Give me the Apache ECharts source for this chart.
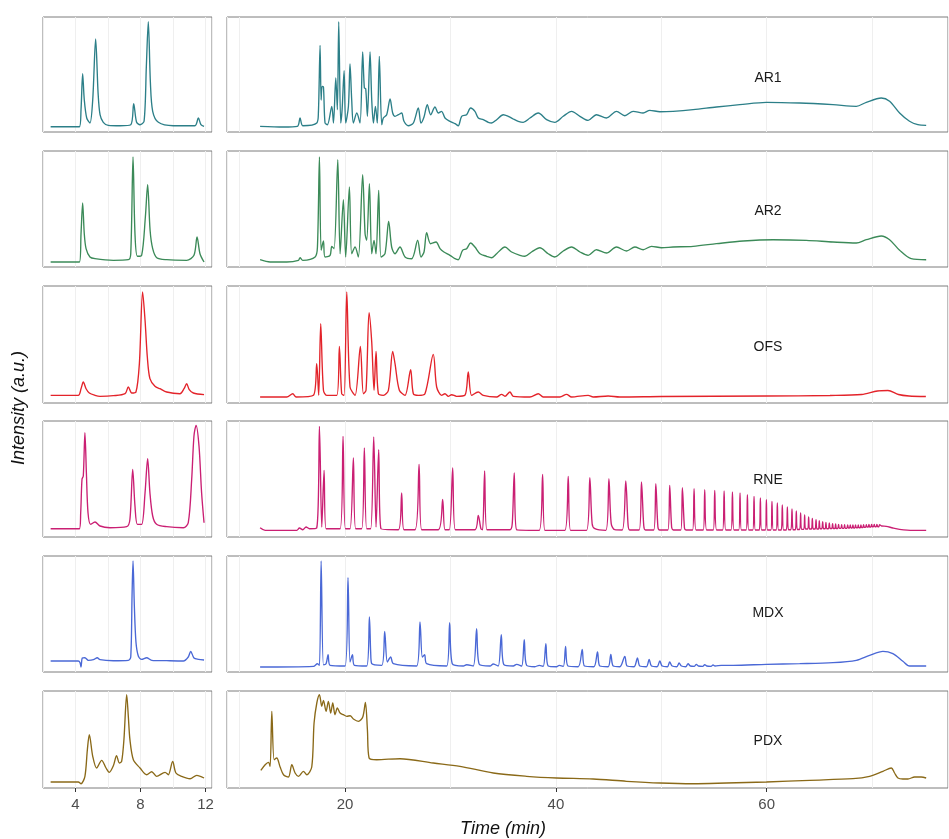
<!DOCTYPE html>
<html>
<head>
<meta charset="utf-8">
<title>Chromatograms</title>
<script src="https://cdn.jsdelivr.net/npm/echarts@6.0.0/dist/echarts.min.js"></script>
<style>
html, body { margin: 0; padding: 0; background: #fff; }
#chart { width: 949px; height: 839px; }
</style>
</head>
<body>
<div id="chart"></div>
<script>
// one row per sample
var traceNames = ['AR1', 'AR2', 'OFS', 'RNE', 'MDX', 'PDX'];
var leftTicks = [4, 8, 12];
var rightTicks = [20, 40, 60];

// [time (min), intensity (a.u.)]
var ar1Left = [[2.47,5.3],[3.46,5.3],[4.24,5.3],[4.34,22.3],[4.44,58.3],[4.54,32.3],[4.69,14],[4.89,9],[5.06,32.3],[5.24,93],[5.39,39],[5.51,17.3],[5.71,9.7],[6.02,6.7],[6.74,6.3],[7.4,7.3],[7.58,28.3],[7.76,9.7],[7.97,7.3],[8.22,10.7],[8.36,65.7],[8.48,110.3],[8.61,49],[8.75,20.7],[9.1,9.7],[10.02,6.3],[11.35,6.3],[11.56,14],[11.72,7.3],[11.91,5.7]];
var ar1Right = [[11.94,5.7],[14.15,5],[15.48,5.7],[15.73,14],[15.99,6.3],[17.32,9],[17.47,19],[17.63,86.7],[17.73,32],[17.82,45.7],[17.95,45],[18.1,9],[18.33,7.3],[18.74,25.7],[18.9,9],[19.12,54],[19.27,22.3],[19.4,110.3],[19.59,9],[19.72,22.3],[19.91,61.3],[20.06,9],[20.32,25.7],[20.47,68],[20.63,32.3],[20.79,9],[21.11,19],[21.42,9],[21.67,80],[21.83,44],[21.96,43.3],[22.12,15.7],[22.37,80],[22.53,32.3],[22.69,9],[22.88,25.7],[23.06,9],[23.25,75.7],[23.48,7.3],[23.63,14],[23.95,17.3],[24.27,33],[24.52,19],[24.74,15.7],[25.06,17.3],[25.37,19],[25.59,10.7],[26.0,6.3],[26.48,9],[26.95,24],[27.2,9],[27.49,15],[27.8,27.3],[28.12,17.3],[28.53,25],[28.85,19],[29.16,20.7],[29.48,14],[29.95,10.7],[30.43,8.3],[30.74,6.3],[31.06,15.7],[31.53,17.3],[31.91,24],[32.32,20.7],[32.64,14],[33.11,12.3],[33.59,9.7],[33.9,9],[34.38,12.3],[35.01,17.3],[35.48,15.7],[35.96,13],[36.43,10.7],[36.9,9.7],[37.54,14],[38.33,19],[39.12,12.3],[39.9,9.7],[40.7,15.7],[41.49,20.7],[42.28,15.7],[43.06,11.7],[43.85,17.3],[44.8,14],[45.75,20.7],[46.54,16.3],[47.33,20.7],[48.28,19],[48.91,21.7],[49.86,20.3],[51.12,20.7],[53.02,22.3],[55.23,25],[57.44,27.3],[59.97,29.7],[63.13,29],[66.29,27.3],[68.5,25.7],[69.45,29.7],[70.87,34],[71.66,30.7],[72.61,19],[73.55,10.7],[74.34,7.3],[75.13,6.7]];
var ar2Left = [[2.47,5],[4.24,5],[4.34,33.3],[4.44,64],[4.54,33.3],[4.65,18.3],[4.89,10],[5.2,8.3],[6.33,6.7],[7.25,7.3],[7.4,13.3],[7.54,110],[7.66,33.3],[7.81,10.7],[8.07,11.7],[8.3,50],[8.44,82.3],[8.59,36.7],[8.75,18.3],[9.0,9.3],[9.61,7.3],[10.84,6.7],[11.29,11.7],[11.48,30],[11.66,13.3],[11.91,5]];
var ar2Right = [[11.94,7.3],[12.89,5],[14.47,5],[15.58,6.7],[15.73,9.3],[15.99,6.7],[17.16,10],[17.38,20],[17.57,110],[17.73,16.7],[17.95,26],[18.1,10],[18.58,11.7],[18.74,20.7],[18.96,18.3],[19.31,107.3],[19.53,13.3],[19.84,67.3],[20.06,10],[20.41,80],[20.63,13.3],[20.95,20],[21.26,10],[21.67,92.3],[21.9,33.3],[22.05,26.7],[22.31,83.3],[22.53,13.3],[22.75,26.7],[22.94,13.3],[23.19,76.7],[23.41,10],[23.79,13.3],[24.14,45.7],[24.42,20],[24.74,13.3],[25.21,20],[25.69,10],[26.32,8.3],[26.89,26.7],[27.2,10],[27.49,15],[27.74,34.3],[28.12,23.3],[28.63,25],[29.01,18.3],[29.38,15],[29.95,11.7],[30.43,8.3],[30.74,7.3],[31.15,16.7],[31.53,18.3],[31.91,24],[32.32,20],[32.8,13.3],[33.43,10.7],[33.9,9.3],[34.38,13.3],[35.17,20],[35.8,15],[36.59,11.7],[37.06,10.7],[37.69,15],[38.48,19.3],[39.27,13.3],[39.9,10],[40.7,16],[41.49,20],[42.28,15],[43.06,11.7],[43.85,17.3],[44.8,14],[45.75,20],[46.7,16],[47.49,20],[48.28,17.3],[49.07,20.7],[50.02,19.3],[51.12,20],[53.02,20.7],[55.23,23.3],[57.76,26],[60.6,27.3],[63.76,26.7],[66.29,25],[68.5,24],[69.45,27.3],[70.87,31],[71.66,27.3],[72.61,16.7],[73.71,8.3],[75.13,7.3]];
var ofsLeft = [[2.47,7.7],[4.17,7.7],[4.34,14.3],[4.48,21],[4.65,14.3],[4.85,10],[5.2,7.7],[5.51,6.7],[6.33,7.3],[7.05,9.3],[7.25,16],[7.46,10],[7.72,11],[7.93,39.3],[8.13,111],[8.28,82.7],[8.42,46],[8.58,24.3],[8.89,16.7],[9.2,14.3],[9.61,11],[10.43,9.3],[10.68,14.3],[10.84,19.3],[11.0,13.3],[11.25,10],[11.91,8.3]];
var ofsRight = [[11.94,6],[14.47,6],[15.04,9.3],[15.36,6],[17.0,7.7],[17.31,39.3],[17.5,7.7],[17.69,79.3],[17.95,12.7],[18.26,7.7],[19.21,7.7],[19.46,56.7],[19.68,9.3],[19.91,7.7],[20.16,111],[20.47,16],[20.95,7.7],[21.45,56.7],[21.74,9.3],[21.99,12.7],[22.28,90.3],[22.53,61],[22.75,12.7],[22.94,51.7],[23.16,9.3],[23.63,7.7],[24.11,12.7],[24.52,51.7],[24.74,39.3],[25.15,12.7],[25.69,7.7],[26.22,33.3],[26.48,9.3],[26.95,7.7],[27.58,9.3],[28.37,48.7],[28.69,16],[29.16,7.7],[29.48,9.3],[29.8,6.7],[30.11,8.3],[30.58,6.7],[31.37,7.7],[31.69,31],[32.01,7.7],[32.64,11],[33.11,7.7],[34.38,6],[34.85,8.7],[35.17,6.7],[35.64,11],[35.96,6.7],[37.54,6],[38.33,9.3],[38.8,6],[40.38,6],[41.01,8.7],[41.49,6],[43.06,7.7],[43.54,6],[44.96,7],[46.07,6],[50,6.5],[60,7],[66,7.5],[69,8.5],[70.5,12],[71.5,12.5],[72.5,8.5],[73.5,7],[75.1,6.5]];
var rneLeft = [[2.47,8.3],[4.24,8.3],[4.32,24.3],[4.4,57.7],[4.48,61],[4.58,104.3],[4.67,64.3],[4.77,24.3],[4.93,12.7],[5.2,15],[5.51,11],[6.12,9.3],[7.15,10.3],[7.35,17.7],[7.52,67.7],[7.66,31],[7.81,12.7],[8.07,12.7],[8.28,44.3],[8.44,78.3],[8.58,44.3],[8.75,21],[8.99,12.7],[9.61,10.3],[10.64,9.3],[10.94,14.3],[11.15,57.7],[11.29,101],[11.42,111.7],[11.6,91],[11.76,44.3],[11.91,14.3]];
var rneRight = [[11.94,9.3],[12.42,6.7],[15.42,6.7],[15.67,9],[15.99,7.3],[16.3,10],[16.62,8.3],[17.31,9],[17.57,110.7],[17.79,10],[18.01,66.7],[18.2,8.3],[19.53,8.3],[19.81,100.7],[20.03,8.3],[20.47,8.3],[20.79,79],[21.01,8.3],[21.58,8.3],[21.83,89],[22.05,8.3],[22.43,8.3],[22.72,100],[22.94,10],[23.19,87.3],[23.41,8.3],[25.06,7.3],[25.37,44],[25.59,7.3],[26.64,7.3],[27.02,72.7],[27.27,7.3],[28.85,7.3],[29.26,37.7],[29.48,7.3],[29.89,7.3],[30.21,69],[30.46,7.3],[32.32,7.3],[32.64,21.7],[32.89,8.3],[33.05,7.3],[33.24,66],[33.46,7.3],[35.64,7.3],[35.86,13.3],[36.05,64],[36.27,7.3],[38.42,6.7],[38.74,62.7],[38.96,6.7],[40.85,6.7],[41.17,60.7],[41.39,6.7],[42.91,6.7],[43.22,59.3],[43.44,13.3],[43.7,8.3],[44.74,6.7],[45.03,58.3],[45.25,13.3],[45.59,7.3],
  [46.3,7],[46.63,56],[46.85,12],[47.0,7],[47.9,7],[48.12,55],[48.34,11],[48.5,7],[49.28,7],[49.48,53.3],[49.68,10],[49.85,7],[50.62,7],[50.8,51.7],[50.98,10],[51.15,7],[51.85,7],[52.0,49.3],[52.2,9],[52.35,7],[52.97,7],[53.11,48.3],[53.3,7],[53.98,7],[54.12,47.3],[54.3,7],[54.93,7],[55.07,46.7],[55.25,7],[55.82,7],[55.96,46],[56.12,7],[56.62,7],[56.75,45],[56.9,7],[57.35,7],[57.47,44],[57.6,7],[58.05,7],[58.17,42.3],[58.3,7],[58.68,7],[58.8,40.7],[58.92,7],[59.3,7],[59.4,39],[59.52,7],[59.87,7],[59.97,37.3],[60.08,7],[60.4,7],[60.5,35.7],[60.62,7],[60.9,7],[61.01,34],[61.12,7],[61.38,7],[61.48,32],[61.6,7],[61.86,7],[61.96,30],[62.06,7.3],[62.3,7.3],[62.4,28],[62.5,7.3],[62.72,7.3],[62.81,26],[62.9,7.5],[63.13,7.5],[63.22,24],[63.3,7.7],[63.52,7.7],[63.6,22],[63.68,8],[63.9,8],[63.98,20],[64.06,8],[64.25,8],[64.33,18.7],[64.41,8],[64.6,8],[64.68,17.3],[64.76,8],[64.92,8],[64.99,16.3],[65.07,8.3],[65.23,8.3],[65.31,15.3],[65.39,8.3],[65.55,8.3],[65.62,14.7],[65.7,8.3],[65.86,8.3],[65.94,14],[66.02,8.5],[66.18,8.5],[66.25,13.3],[66.33,8.5],[66.47,8.5],[66.54,13],[66.61,8.5],[66.75,8.5],[66.82,12.7],[66.89,8.7],[67.04,8.7],[67.11,12.3],[67.18,8.7],[67.32,8.7],[67.39,12.3],[67.46,8.7],[67.6,8.7],[67.68,12],[67.75,9],[67.86,9],[67.93,12],[68.0,9],[68.11,9],[68.18,12],[68.25,9],[68.36,9],[68.43,12],[68.5,9.3],[68.62,9.3],[68.69,12],[68.76,9.3],[68.87,9.3],[68.94,12],[69.0,9.5],[69.12,9.5],[69.19,12.3],[69.26,9.7],[69.38,9.7],[69.45,12.3],[69.52,10],[69.63,10],[69.7,12.7],[69.77,10],[69.88,10],[69.95,12.7],[70.02,10.3],[70.13,10.3],[70.2,12.7],[70.27,10.3],[70.39,10.3],[70.46,12.7],[70.53,10.3],[70.64,10.3],[70.71,12.3],[70.9,11],[71.34,10.7],[71.97,9],[72.6,7.7],[73.87,6.7],[75.13,6.7]];
var mdxLeft = [[2.47,11],[4.17,11],[4.28,9.3],[4.34,5],[4.42,14],[4.58,14.3],[4.79,11.7],[5.1,12.3],[5.34,14.3],[5.51,12.3],[6.33,11.3],[7.25,11.7],[7.4,15],[7.48,76.7],[7.54,111],[7.62,66.7],[7.72,30],[7.87,15.7],[8.07,12.7],[8.38,14.3],[8.69,11.7],[9.61,11.3],[10.64,11],[10.94,15],[11.09,20.7],[11.29,14],[11.56,12.7],[11.91,12]];
var mdxRight = [[11.94,5],[17.0,5.7],[17.38,8.3],[17.57,6.7],[17.73,111],[17.95,7.3],[18.2,8.3],[18.39,17.3],[18.58,6.7],[20.0,6],[20.28,94.3],[20.47,10],[20.7,17.3],[20.89,6.7],[22.05,6],[22.31,55],[22.43,20],[22.53,8.3],[23.48,6.7],[23.76,40.7],[24.01,10],[24.33,15],[24.58,8.3],[26.79,6],[27.11,50],[27.33,15],[27.55,17.3],[27.74,8.3],[29.64,6],[29.92,49.3],[30.17,8.3],[31.22,6],[31.53,7.3],[32.16,6],[32.48,43.3],[32.73,7.7],[33.75,6],[34.06,8],[34.53,6],[34.82,37.3],[35.07,7.3],[35.96,6],[36.27,7.7],[36.75,6],[37.0,32.3],[37.22,6.7],[38.01,5.3],[38.42,6.7],[38.8,5.7],[39.05,28.3],[39.27,6],[40.06,5.3],[40.32,6.7],[40.71,5.7],[40.92,25.7],[41.14,6],[42.12,5.3],[42.5,22.7],[42.72,6],[43.6,5.3],[43.95,20],[44.17,6],[44.96,5.3],[45.21,17.7],[45.44,6],[46.07,5.3],[46.54,15.7],[46.76,6],[47.42,5.3],[47.74,14],[47.96,6],[48.59,5.3],[48.85,12.7],[49.07,6],[49.6,5.3],[49.86,11],[50.08,6],[50.58,5.3],[50.8,10],[51.03,6],[51.47,5.3],[51.69,9],[51.91,6],[52.32,5.3],[52.54,8.3],[52.76,6],[53.14,5.7],[53.33,7.7],[53.52,6],[53.93,5.7],[54.12,7.3],[54.31,6],[54.72,5.7],[54.91,7],[55.1,6],[55.7,6.7],[56.81,6.7],[59.97,7.7],[63.13,8.3],[66.29,9.3],[68.5,11.7],[69.76,16.7],[71.03,20.7],[71.97,18.3],[72.92,10.7],[73.55,6],[75.13,6]];
var pdxLeft = [[2.47,6],[4.17,6],[4.34,4.3],[4.58,11.7],[4.73,38.3],[4.85,53.3],[5.06,31.7],[5.3,20],[5.61,27.7],[5.88,20],[6.08,15.7],[6.33,22.3],[6.53,32.3],[6.7,25],[6.84,26.7],[6.98,48.3],[7.15,93.3],[7.25,71.7],[7.35,48.3],[7.56,28.3],[7.97,20],[8.38,13.3],[8.69,16.3],[8.99,11.7],[9.51,15.7],[9.71,13.3],[9.98,26.7],[10.18,15],[10.53,11.7],[11.05,9.3],[11.46,12.7],[11.91,10]];
var pdxRight = [[12.01,17.7],[12.42,23.3],[12.73,25.7],[12.89,21.7],[13.05,76.7],[13.27,28.3],[13.52,30],[13.84,21],[14.16,13.3],[14.63,11],[14.95,23.3],[15.26,15],[15.58,11.7],[16.05,16.7],[16.37,13.3],[16.84,21],[17.06,65],[17.32,85],[17.57,93.3],[17.79,81.7],[17.95,87.7],[18.2,76.7],[18.42,86.7],[18.64,75],[18.83,85],[19.05,73.3],[19.27,80],[19.53,75],[19.84,73.3],[20.16,71.7],[20.48,72.3],[20.79,69],[21.27,66.7],[21.68,71],[21.93,85.7],[22.12,58.3],[22.28,30],[23.0,28.3],[25.21,29.3],[28.37,25],[30.9,21.7],[34.06,15],[37.22,11.7],[40.06,10],[43.54,9],[46.7,6.7],[49.86,5],[53.02,4.3],[56.18,5],[59.97,6],[64.08,7.7],[68.18,9.3],[69.76,11.7],[71.03,16.7],[71.82,20],[72.13,15],[72.45,10],[72.92,9],[73.4,9],[74.03,11],[74.66,11],[75.13,10]];

var traces = [
  [ar1Left, ar1Right],
  [ar2Left, ar2Right],
  [ofsLeft, ofsRight],
  [rneLeft, rneRight],
  [mdxLeft, mdxRight],
  [pdxLeft, pdxRight]
];

// layout and styles
var colors = ['#2c7f88', '#3b8a58', '#e3232a', '#ca1f73', '#4a68d6', '#8a6918'];
var rowTop = [17, 151, 286, 421, 556, 691];
var rowHeight = [115, 116, 117, 116, 116, 97];
var labelY = [78, 211, 347, 480, 613, 741];
var font = "'Liberation Sans', Arial, sans-serif";
var gridLine = { show: true, lineStyle: { color: '#efefef', width: 1 } };

var myChart = echarts.init(document.getElementById('chart'));

var grids = [], xAxes = [], yAxes = [], series = [], texts = [];

for (var r = 0; r < traceNames.length; r++) {
  for (var c = 0; c < 2; c++) {
    var gi = r * 2 + c;
    grids.push({
      left: c === 0 ? 43 : 227,
      width: c === 0 ? 169 : 721,
      top: rowTop[r],
      height: rowHeight[r],
      show: true,
      borderColor: '#7d7d7d',
      borderWidth: 1,
      containLabel: false
    });
    var xa = {
      gridIndex: gi,
      type: 'value',
      position: 'bottom',
      axisLine: { show: false },
      axisTick: { show: false },
      axisLabel: { show: false },
      splitLine: gridLine
    };
    if (c === 0) {
      xa.min = 2; xa.max = 12.4; xa.interval = 2;
    } else {
      xa.min = 8.8; xa.max = 77.2; xa.splitNumber = 7;
    }
    xAxes.push(xa);
    yAxes.push({
      gridIndex: gi,
      type: 'value',
      min: 0,
      max: rowHeight[r],
      show: false
    });
    series.push({
      type: 'line',
      xAxisIndex: gi,
      yAxisIndex: gi,
      data: traces[r][c],
      symbol: 'none',
      showSymbol: false,
      silent: true,
      smooth: 0.3,
      z: 3,
      lineStyle: { color: colors[r], width: 1.35 }
    });
  }
  texts.push({
    type: 'text',
    x: 768,
    y: labelY[r],
    z: 10,
    style: {
      text: traceNames[r],
      fontSize: 14,
      fontFamily: font,
      fill: '#1a1a1a',
      align: 'center',
      verticalAlign: 'middle'
    }
  });
}

// tick marks and labels under the bottom row
var last = (traceNames.length - 1) * 2;
[[last, 2, 12.4, leftTicks], [last + 1, 8.8, 77.2, rightTicks]].forEach(function (d) {
  xAxes.push({
    gridIndex: d[0],
    type: 'value',
    position: 'bottom',
    min: d[1],
    max: d[2],
    axisLine: { show: false },
    axisTick: { show: true, length: 4, customValues: d[3], lineStyle: { color: '#333' } },
    axisLabel: {
      show: true,
      customValues: d[3],
      margin: 9,
      color: '#4d4d4d',
      fontSize: 15,
      fontFamily: font
    },
    splitLine: { show: false }
  });
});

texts.push({
  type: 'text',
  x: 503,
  y: 829,
  style: {
    text: 'Time (min)',
    fontSize: 18,
    fontStyle: 'italic',
    fontFamily: font,
    fill: '#111',
    align: 'center',
    verticalAlign: 'middle'
  }
});
texts.push({
  type: 'text',
  x: 19,
  y: 408,
  rotation: Math.PI / 2,
  style: {
    text: 'Intensity (a.u.)',
    fontSize: 18,
    fontStyle: 'italic',
    fontFamily: font,
    fill: '#111',
    align: 'center',
    verticalAlign: 'middle'
  }
});

var option = {
  animation: false,
  backgroundColor: '#ffffff',
  grid: grids,
  xAxis: xAxes,
  yAxis: yAxes,
  series: series,
  graphic: texts
};

myChart.setOption(option);
</script>
</body>
</html>
